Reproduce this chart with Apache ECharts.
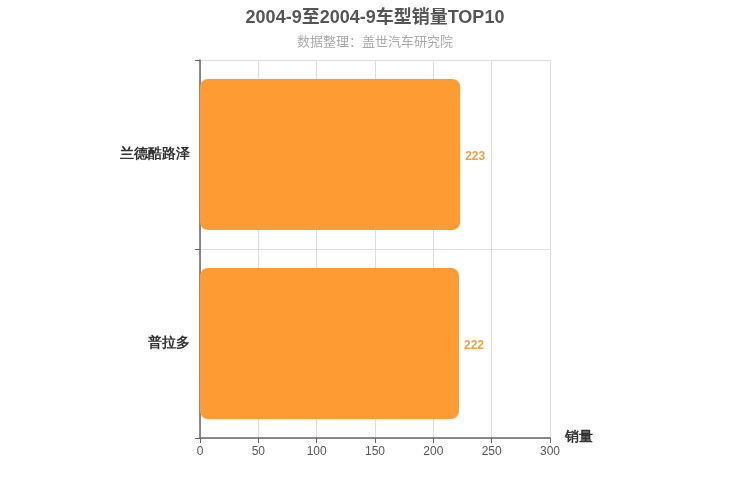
<!DOCTYPE html>
<html>
<head>
<meta charset="utf-8">
<script src="https://cdn.jsdelivr.net/npm/echarts@6/dist/echarts.min.js"></script>
<style>
  html, body { margin: 0; padding: 0; background: #fff; }
  #main { width: 750px; height: 500px; }
</style>
</head>
<body>
<div id="main"></div>
<script>
// 数据
var models = ['普拉多', '兰德酷路泽']
var sales = [222, 223]
var ticks = [0, 50, 100, 150, 200, 250, 300]

var myChart = echarts.init(document.getElementById('main'))
myChart.setOption({
  animation: false,
  title: {
    text: '2004-9至2004-9车型销量TOP10',
    subtext: '数据整理：盖世汽车研究院',
    left: 'center',
    top: 4,
    itemGap: 9,
    textStyle: { fontSize: 18, fontWeight: 'bold', color: '#555', fontFamily: 'Arial, "Noto Sans CJK SC"' },
    subtextStyle: { fontSize: 13, color: '#aaa', fontFamily: 'Arial, "Noto Sans CJK SC"' }
  },
  grid: { left: 200, right: 200, top: 60, bottom: 62 },
  xAxis: {
    type: 'value',
    min: ticks[0],
    max: ticks[ticks.length - 1],
    interval: 50,
    name: '销量',
    nameLocation: 'end',
    nameGap: 15,
    nameTextStyle: { fontSize: 14, fontWeight: 'bold', color: '#333', verticalAlign: 'top', padding: [-8, 0, 0, 0] },
    axisLine: { show: true, lineStyle: { color: '#666', width: 1.5 } },
    axisTick: { show: true, lineStyle: { color: '#666' } },
    axisLabel: { color: '#555', fontSize: 12 },
    splitLine: { show: true, lineStyle: { color: '#ddd' } }
  },
  yAxis: {
    type: 'category',
    data: models,
    axisLine: { show: true, lineStyle: { color: '#666', width: 1.5 } },
    axisTick: { show: true, lineStyle: { color: '#666' } },
    axisLabel: { color: '#333', fontSize: 14, fontWeight: 'bold', margin: 10 },
    splitLine: { show: true, lineStyle: { color: '#ddd' } }
  },
  series: [
    {
      name: '销量',
      type: 'bar',
      data: sales,
      barWidth: '80%',
      itemStyle: { color: '#ff9b33', borderRadius: 8 },
      label: { show: true, position: 'right', color: '#f0a040', fontSize: 12, fontWeight: 'bold', offset: [0, 2] }
    }
  ]
})
</script>
</body>
</html>
